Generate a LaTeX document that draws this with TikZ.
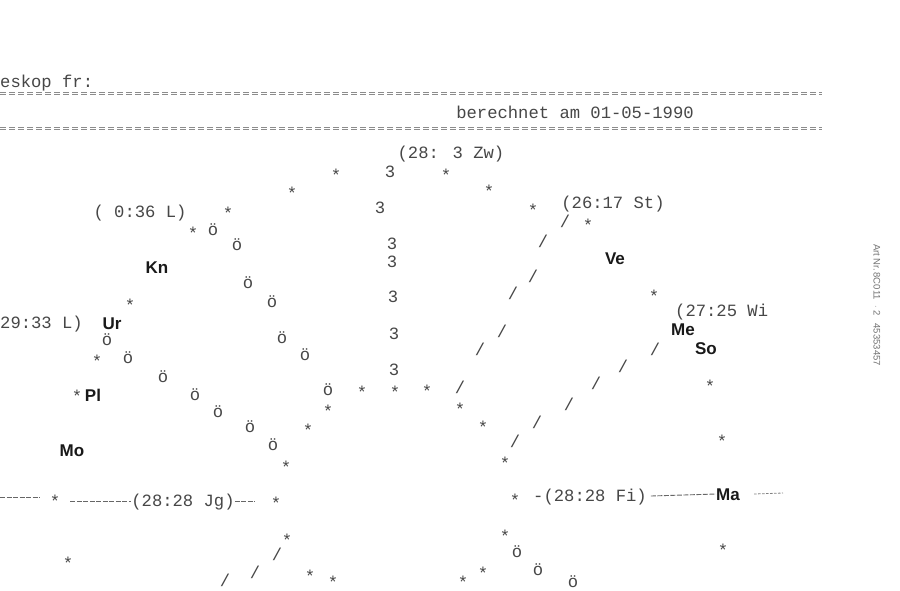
\documentclass[tikz,border=0pt]{standalone}
\usepackage{fontspec}
\setmainfont{Liberation Sans}
\newfontfamily\dmfont{Liberation Mono}
\newfontfamily\lblfont{Liberation Sans}
\begin{document}
\begin{tikzpicture}[x=1pt,y=-1pt,
  dm/.style={font=\dmfont\fontsize{17.2}{17.2}\selectfont, text=black!72, inner sep=0pt, text height=10pt, text depth=0pt},
  stx/.style={dm, yshift=-4pt},
  lbl/.style={font=\lblfont\bfseries\fontsize{17}{17}\selectfont, inner sep=0pt, text height=12.2pt, text depth=0pt, text=black!90},
  hy/.style={draw=black!60, line width=0.9pt, dash pattern=on 5pt off 1.5pt},
  dotl/.style={draw=black!50, line width=0.8pt, dash pattern=on 2.5pt off 1.5pt},
  rulel/.style={draw=black!45, line width=0.9pt, dash pattern=on 6pt off 3pt}]
\fill[white] (0,0) rectangle (900,590);
\useasboundingbox (0,0) rectangle (900,590);

% header
\node[dm, anchor=west] (head1) at (0,82) {eskop fr:};
\coordinate (r1a) at (0,92);  \coordinate (r1b) at (822,92);
\coordinate (r2a) at (0,127); \coordinate (r2b) at (822,127);
\draw[rulel] (r1a) -- (r1b);
\draw[rulel] ([yshift=-2.6pt]r1a) -- ([yshift=-2.6pt]r1b);
\draw[rulel] (r2a) -- (r2b);
\draw[rulel] ([yshift=-2.6pt]r2a) -- ([yshift=-2.6pt]r2b);
\node[dm] (head2) at (575,113) {berechnet am 01-05-1990};

% cusp texts
\node[dm] (zw) at (451,153) {(28: 3 Zw)};
\node[dm] (l1) at (140,212) {( 0:36 L)};
\node[dm] (st) at (613,203) {(26:17 St)};
\node[dm, anchor=west] (wi) at (675,311) {(27:25 Wi};
\node[dm, anchor=west] (l2) at (0,323) {29:33 L)};
\node[dm] (jg) at (183,501) {(28:28 Jg)};
\node[dm] (fi) at (590,496) {-(28:28 Fi)};

% planet labels
\node[lbl] (kn) at (157,267) {Kn};
\node[lbl] (ve) at (615,258) {Ve};
\node[lbl] (ur) at (112,323) {Ur};
\node[lbl] (me) at (683,329) {Me};
\node[lbl] (so) at (706,348) {So};
\node[lbl] (pl) at (93,395) {Pl};
\node[lbl] (mo) at (72,450) {Mo};
\node[lbl] (ma) at (728,494) {Ma};

% asterisks
\foreach \x/\y [count=\i] in {336/172,446/172,292/190,489/188,228/210,533/207,588/222,193/230,
  130/302,97/358,77/393,654/293,362/389,395/389,427/388,328/408,460/406,308/427,483/424,
  286/464,505/460,710/383,722/438,723/547,287/537,505/533,68/560,310/573,483/570,333/579,463/579}
  \node[stx] (s\i) at (\x,\y) {*};
\node[stx] (sj1) at (55,498) {*};
\node[stx] (sj2) at (276,500) {*};
\node[stx] (sf) at (515,497) {*};

% threes
\foreach \x/\y [count=\i] in {390/172,380/208,392/244,392/262,393/297,394/334,394/370}
  \node[dm] (t\i) at (\x,\y) {3};

% o-umlauts
\foreach \x/\y [count=\i] in {213/230,237/245,248/283,272/302,282/338,107/340,128/358,163/377,
  195/395,218/412,250/427,273/445,305/355,328/390,517/552,538/570,573/582}
  \node[dm] (o\i) at (\x,\y) {ö};

% slashes
\foreach \x/\y [count=\i] in {565/222,543/242,533/277,513/294,502/332,480/350,460/388,537/423,
  515/442,623/367,655/350,596/384,569/405,277/555,255/573,225/581}
  \node[dm] (v\i) at (\x,\y) {/};

% horizontal dash rows
\coordinate (jl) at (0,497);
\coordinate (jl2) at (40,497);
\draw[hy] (jl) -- (jl2);
\draw[hy] (jg.west -| sj1.east) ++(10,0) -- (jg.west);
\draw[hy] (jg.east) -- ([xshift=-16pt]jg.east -| sj2.west);
\draw[hy] (fi.east) ++(4,0) -- (ma.west);
\coordinate (mend) at (783,493);
\draw[dotl] ([xshift=14pt]ma.east) -- (mend);

% margin print
\node[font=\lblfont\fontsize{9.5}{9.5}\selectfont, text=black!55, rotate=-90, inner sep=0pt] (artnr) at (877,305) {Art Nr.\,8C011 \ $\cdot$\ 2 \ \ 45353457};
\end{tikzpicture}
\end{document}
